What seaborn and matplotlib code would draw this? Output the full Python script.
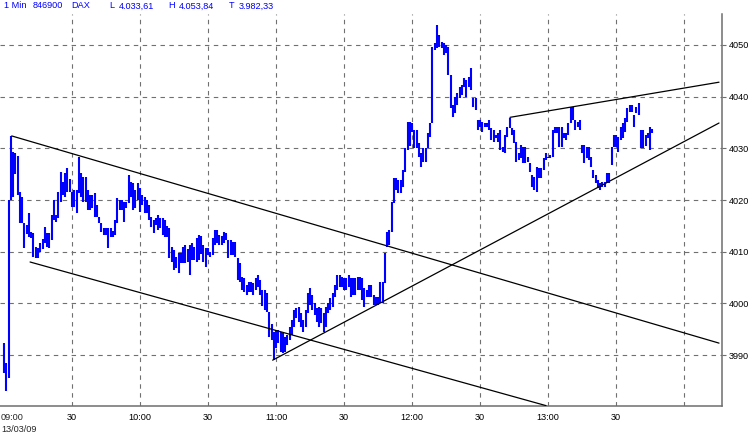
import matplotlib
matplotlib.use('Agg')
import matplotlib.pyplot as plt
import numpy as np
import pandas as pd
import seaborn as sns

# DAX 1-minute bars, 13/03/09, minutes after 09:00
bar_high = [
	3992.3, 3988.5, 4020.0, 4032.4, 4029.3, 4029.1, 4028.5, 4021.5, 4020.6, 4015.6,
	4015.2, 4017.5, 4013.8, 4013.6, 4010.9, 4010.7, 4011.7, 4012.5, 4014.8, 4013.6,
	4013.6, 4017.1, 4020.0, 4017.1, 4021.5, 4025.4, 4023.5, 4025.2, 4026.2, 4024.0,
	4021.5, 4021.9, 4021.9, 4028.3, 4025.2, 4024.5, 4024.5, 4021.9, 4021.0, 4021.0,
	4021.4, 4019.0, 4016.7, 4015.6, 4014.6, 4014.6, 4014.6, 4014.6, 4014.0, 4016.1,
	4020.4, 4020.0, 4020.0, 4019.6, 4019.6, 4024.8, 4023.5, 4023.3, 4022.0, 4023.3,
	4022.3, 4021.0, 4020.6, 4020.0, 4019.0, 4016.7, 4016.1, 4016.5, 4017.1, 4016.5,
	4016.5, 4016.1, 4015.0, 4014.6, 4011.0, 4010.3, 4009.0, 4009.7, 4009.7, 4010.9,
	4011.3, 4010.5, 4011.3, 4011.7, 4011.0, 4012.6, 4013.2, 4013.0, 4011.3, 4010.7,
	4010.7, 4010.0, 4012.6, 4014.2, 4014.2, 4013.2, 4013.0, 4013.8, 4013.6, 4012.3,
	4012.3, 4011.9, 4011.9, 4008.8, 4007.8, 4005.1, 4004.9, 4003.6, 4004.1, 4004.1,
	4003.9, 4004.9, 4005.5, 4004.5, 4002.6, 4002.6, 4002.0, 3998.3, 3996.0, 3994.4,
	3994.8, 3994.8, 3994.4, 3994.3, 3993.5, 3993.9, 3995.4, 3996.8, 3998.7, 3999.1,
	3999.3, 3998.1, 3996.8, 3998.7, 4002.0, 4003.0, 4001.6, 4000.1, 3999.1, 3999.3,
	3999.1, 3998.1, 3999.3, 4000.1, 4001.0, 4002.0, 4003.6, 4005.5, 4005.5, 4005.1,
	4004.9, 4004.9, 4005.5, 4004.9, 4004.9, 4004.9, 4005.1, 4005.1, 4004.9, 4003.0,
	4002.6, 4003.6, 4003.6, 4001.6, 4001.2, 4001.2, 4004.1, 4004.1, 4009.7, 4013.8,
	4014.2, 4019.6, 4024.3, 4024.3, 4023.9, 4023.9, 4025.8, 4030.1, 4035.1, 4035.1,
	4034.9, 4033.5, 4033.5, 4031.0, 4029.1, 4030.1, 4030.1, 4033.0, 4034.9, 4049.6,
	4050.4, 4053.8, 4051.9, 4050.6, 4050.4, 4050.0, 4049.6, 4044.2, 4038.4, 4039.9,
	4040.7, 4041.9, 4042.3, 4043.6, 4043.2, 4043.8, 4045.5, 4039.7, 4039.7, 4035.5,
	4035.5, 4035.1, 4034.9, 4034.9, 4035.5, 4033.9, 4033.5, 4032.6, 4033.0, 4033.5,
	4030.3, 4032.6, 4034.1, 4035.9, 4033.9, 4033.5, 4031.2, 4029.1, 4030.6, 4030.3,
	4030.3, 4028.3, 4027.2, 4024.8, 4024.5, 4026.4, 4026.2, 4026.2, 4028.1, 4029.1,
	4028.3, 4028.7, 4033.5, 4034.1, 4034.1, 4034.1, 4034.1, 4033.0, 4033.0, 4034.9,
	4038.0, 4038.0, 4035.5, 4035.1, 4035.5, 4030.6, 4030.6, 4030.3, 4030.3, 4028.3,
	4025.8, 4024.8, 4023.9, 4023.3, 4023.5, 4023.5, 4025.2, 4025.2, 4030.3, 4032.6,
	4032.6, 4032.2, 4034.1, 4034.9, 4035.9, 4037.8, 4038.4, 4038.4, 4036.5, 4038.0,
	4038.8, 4033.5, 4033.5, 4032.5, 4033.0, 4034.1, 4033.8,
]
bar_low = [
	3986.5, 3983.0, 3985.5, 4020.0, 4020.5, 4025.0, 4021.0, 4015.6, 4015.6, 4010.7,
	4013.5, 4012.9, 4012.6, 4009.0, 4008.8, 4008.8, 4010.0, 4010.5, 4011.7, 4011.0,
	4010.7, 4012.3, 4016.1, 4015.7, 4016.5, 4019.6, 4021.0, 4020.6, 4021.5, 4021.5,
	4018.6, 4018.6, 4017.5, 4021.4, 4020.6, 4019.6, 4019.6, 4018.1, 4018.1, 4018.5,
	4016.7, 4016.7, 4015.6, 4013.8, 4013.2, 4013.2, 4010.7, 4012.8, 4012.8, 4013.2,
	4015.6, 4018.1, 4018.1, 4015.7, 4018.5, 4019.4, 4020.6, 4018.1, 4018.5, 4020.0,
	4017.7, 4019.0, 4017.5, 4017.5, 4016.1, 4014.8, 4013.6, 4015.2, 4014.2, 4014.5,
	4013.2, 4012.8, 4012.8, 4008.8, 4008.0, 4006.5, 4006.8, 4005.9, 4007.8, 4007.8,
	4007.8, 4008.0, 4005.5, 4008.4, 4008.4, 4008.0, 4008.4, 4009.5, 4008.0, 4007.0,
	4009.4, 4009.0, 4009.4, 4011.3, 4011.7, 4011.3, 4011.3, 4011.7, 4012.3, 4008.8,
	4009.4, 4009.4, 4009.0, 4004.5, 4004.1, 4002.6, 4002.2, 4001.6, 4002.2, 4002.2,
	4001.6, 4002.6, 4003.2, 4001.6, 3999.5, 3998.7, 3998.3, 3993.5, 3992.9, 3989.0,
	3991.4, 3992.3, 3990.6, 3990.4, 3990.6, 3991.9, 3992.9, 3993.9, 3995.4, 3997.2,
	3996.4, 3995.4, 3994.4, 3995.4, 3998.1, 3999.7, 3998.7, 3997.7, 3996.4, 3995.4,
	3996.2, 3994.4, 3995.5, 3998.1, 3998.7, 3999.3, 4001.2, 4002.6, 4003.2, 4003.2,
	4002.6, 4002.6, 4003.2, 4001.2, 4001.6, 4001.6, 4002.6, 4002.6, 4000.6, 3999.3,
	4001.2, 4001.2, 4001.2, 3999.7, 3999.7, 3999.7, 4000.1, 4000.1, 4003.9, 4010.9,
	4011.3, 4013.8, 4019.4, 4021.9, 4021.4, 4021.4, 4022.5, 4025.4, 4029.7, 4030.5,
	4033.2, 4030.1, 4030.1, 4028.3, 4026.4, 4027.4, 4027.4, 4030.1, 4032.2, 4034.9,
	4049.0, 4049.4, 4049.6, 4049.4, 4048.1, 4048.5, 4044.2, 4037.8, 4036.1, 4036.8,
	4038.4, 4039.7, 4040.3, 4041.9, 4039.9, 4041.9, 4041.3, 4038.0, 4037.4, 4033.5,
	4034.1, 4033.2, 4034.1, 4034.1, 4033.5, 4031.6, 4031.2, 4032.0, 4031.2, 4029.7,
	4029.3, 4029.1, 4032.2, 4033.9, 4032.6, 4031.0, 4027.4, 4027.7, 4028.1, 4027.2,
	4027.2, 4027.4, 4025.4, 4022.5, 4021.9, 4021.5, 4024.3, 4024.3, 4025.8, 4027.7,
	4028.1, 4028.1, 4028.3, 4033.0, 4033.0, 4030.3, 4030.3, 4032.0, 4031.6, 4032.6,
	4034.9, 4035.5, 4033.5, 4034.1, 4033.5, 4029.1, 4027.2, 4028.1, 4027.7, 4026.4,
	4024.3, 4023.3, 4022.3, 4021.9, 4022.5, 4022.5, 4023.3, 4023.3, 4026.8, 4030.3,
	4030.3, 4029.3, 4031.6, 4032.0, 4033.2, 4035.1, 4037.0, 4037.0, 4034.1, 4036.8,
	4036.5, 4030.1, 4030.1, 4030.5, 4032.0, 4029.7, 4033.0,
]

# hand-drawn trend lines: (start minute, start price, end minute, end price)
trend_names = ['channel_top', 'channel_bottom', 'support', 'resistance']
trend_x0 = [3.4, 11.5, 118.5, 223.2]
trend_y0 = [4032.4, 4008.0, 3989.0, 4036.0]
trend_x1 = [315.4, 239.1, 315.4, 315.4]
trend_y1 = [3992.3, 3980.2, 4034.9, 4042.8]

header_parts = ['1 Min', '846900', 'DAX', 'L', '4.033,61', 'H', '4.053,84', 'T', '3.982,33']
header_px = [4, 33, 71, 109, 119, 168, 179, 229, 239]

x_tick_minutes = [30, 60, 90, 120, 150, 180, 210, 240, 270, 300]
x_tick_labels = ['30', '10:00', '30', '11:00', '30', '12:00', '30', '13:00', '30', '']
y_ticks = [3990, 4000, 4010, 4020, 4030, 4040, 4050]

W, H = 753, 436
sns.set_style('white')
plt.rcParams['font.family'] = ['Liberation Sans', 'DejaVu Sans']

fig = plt.figure(figsize=(W / 100, H / 100), dpi=100)
fig.patch.set_facecolor('white')
ax = fig.add_axes([0, 30 / H, 722 / W, (406 - 14) / H])

minutes = np.arange(len(bar_high))
ax.vlines(minutes, bar_low, bar_high, color='#0000ff', lw=1.5, zorder=3)

trend = pd.DataFrame({
	'line': trend_names * 2,
	'minute': trend_x0 + trend_x1,
	'price': trend_y0 + trend_y1,
})
sns.lineplot(data=trend, x='minute', y='price', units='line', estimator=None,
	color='black', lw=0.9, ax=ax, zorder=4)

ax.set_xlim(-4 / 2.267, 718 / 2.267)
ax.set_ylim(3990 - 51 / 5.167, 4050 + 31 / 5.167)
ax.set_xlabel('')
ax.set_ylabel('')

ax.set_xticks(x_tick_minutes)
ax.set_xticklabels(x_tick_labels, fontsize=6.6)
ax.set_yticks(y_ticks)
ax.set_yticklabels([str(v) for v in y_ticks], fontsize=6.6)
ax.yaxis.tick_right()
ax.tick_params(axis='x', length=0, pad=5, colors='black')
ax.tick_params(axis='y', length=3, width=0.8, color='#6e6e6e', pad=2, labelcolor='black')

ax.set_axisbelow(True)
ax.grid(True, color='#707070', lw=0.8, linestyle=(0, (4, 4)))

for side in ['left', 'top']:
	ax.spines[side].set_visible(False)
for side in ['right', 'bottom']:
	ax.spines[side].set_color('#6e6e6e')
	ax.spines[side].set_linewidth(1.1)

for text, px in zip(header_parts, header_px):
	fig.text(px / W, 1 - 6 / H, text, color='#0000ff', fontsize=6.6, ha='left', va='center')

fig.text(1 / W, 1 - 417 / H, '09:00', fontsize=6.6, ha='left', va='center')
fig.text(1 / W, 1 - 429 / H, '13/03/09', fontsize=6.6, ha='left', va='center')

fig.savefig('out.png', dpi=100, facecolor='white')
